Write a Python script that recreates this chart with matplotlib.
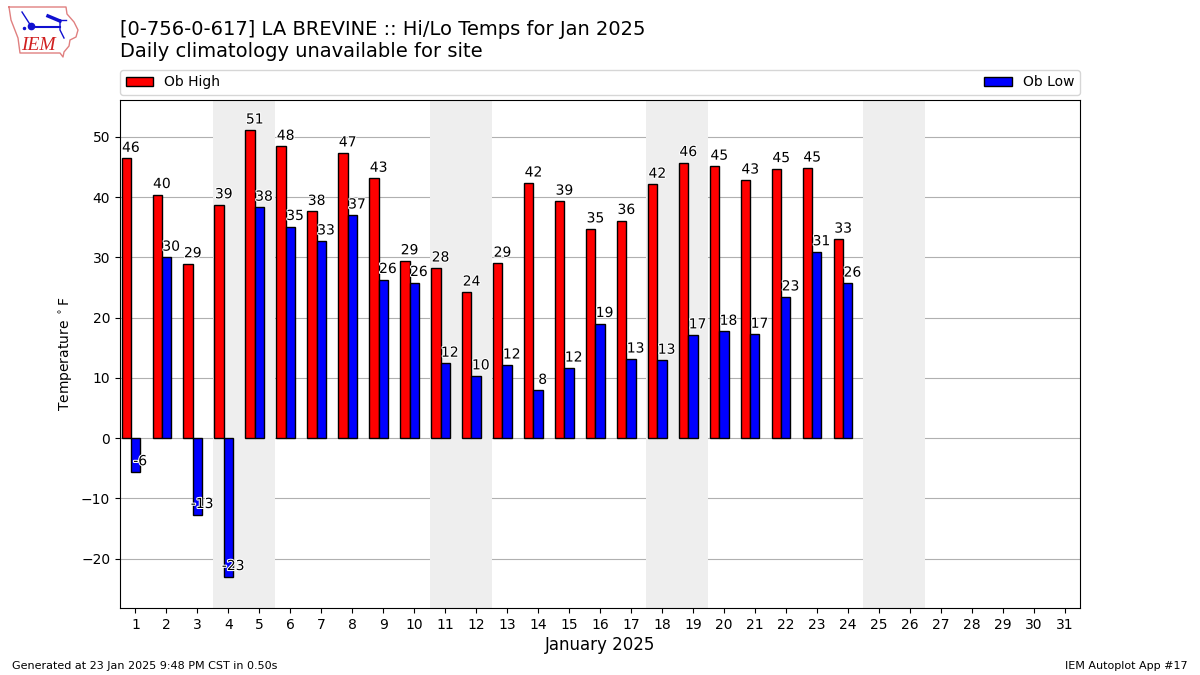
import matplotlib
matplotlib.use('Agg')
import matplotlib.pyplot as plt
import matplotlib.patheffects as PathEffects

days = list(range(1, 25))
ob_high = [46.4, 40.4, 28.9, 38.7, 51.1, 48.4, 37.6, 47.3, 43.1, 29.4, 28.2, 24.2,
           29.0, 42.3, 39.3, 34.7, 36.1, 42.1, 45.7, 45.1, 42.8, 44.7, 44.8, 33.0]
ob_low = [-5.6, 30.0, -12.7, -23.0, 38.3, 35.1, 32.7, 37.0, 26.3, 25.8, 12.4, 10.3,
          12.1, 7.9, 11.6, 19.0, 13.1, 12.9, 17.1, 17.7, 17.2, 23.4, 30.9, 25.7]
weekends = [4, 11, 18, 25]
yticks = [-20, -10, 0, 10, 20, 30, 40, 50]

# logo outline, pixels of the 1200x675 image
iowa_x = [9, 66, 67, 74, 78, 76, 70, 69, 64, 63, 60, 20, 18, 11, 9]
iowa_y = [7, 7, 14, 22, 30, 37, 40, 46, 52, 57, 53, 53, 38, 20, 7]

fig = plt.figure(figsize=(12, 6.75), dpi=100)
ax = fig.add_axes([120 / 1200, 67 / 675, 960 / 1200, 508 / 675])

for d in weekends:
    ax.axvspan(d - 0.5, d + 1.5, color='#eeeeee', lw=0, zorder=1)

ax.bar([d - 0.3 for d in days], ob_high, width=0.3, color='r', edgecolor='k', label='Ob High', zorder=2)
ax.bar(days, ob_low, width=0.3, color='b', edgecolor='k', label='Ob Low', zorder=2)

# labels sit a bit right of each bar centre
for d, hi, lo in zip(days, ob_high, ob_low):
    for xpos, val in ((d - 0.15, hi), (d + 0.15, lo)):
        t = ax.text(xpos, val + 0.6, '%.0f' % val, ha='center', va='bottom', fontsize=10, zorder=4)
        t.set_path_effects([PathEffects.withStroke(linewidth=1.5, foreground='white')])

ax.set_xlim(0.5, 31.5)
ax.set_ylim(-28.2, 56.1)
ax.set_xticks(range(1, 32))
ax.set_yticks(yticks)
ax.grid(axis='y', zorder=1.5)
ax.set_axisbelow(True)
ax.set_ylabel(r'Temperature $^\circ$F')
ax.set_xlabel('January 2025', fontsize=12, labelpad=3)
ax.legend(bbox_to_anchor=(0, 1.01, 1, 0.102), loc='lower left', ncol=2, mode='expand', borderaxespad=0)

fig.text(120 / 1200, 1 - 61 / 675, '[0-756-0-617] LA BREVINE :: Hi/Lo Temps for Jan 2025\nDaily climatology unavailable for site',
         fontsize=14, ha='left', va='bottom')
fig.text(12 / 1200, 1 - 666 / 675, 'Generated at 23 Jan 2025 9:48 PM CST in 0.50s', fontsize=8, va='center')
fig.text(1188 / 1200, 1 - 666 / 675, 'IEM Autoplot App #17', fontsize=8, va='center', ha='right')

logo = fig.add_axes([0, 1 - 60 / 675, 80 / 1200, 60 / 675])
logo.set_xlim(0, 80)
logo.set_ylim(60, 0)
logo.axis('off')
logo.plot(iowa_x, iowa_y, color='#e08080', lw=1)
logo.plot([31, 60], [27, 27], color='#1010d0', lw=1.5)
logo.plot([22, 31], [12, 26], color='#1010d0', lw=1)
logo.plot([60, 60, 64], [20, 30, 38], color='#1010d0', lw=1)
logo.plot([48, 60], [16, 21], color='#1010d0', lw=2.5)
logo.plot([58, 66], [20, 20], color='#1010d0', lw=1)
logo.plot([31], [26], 'o', color='#1010d0', ms=4.5)
logo.plot([24], [28], 'o', color='#1010d0', ms=1.5)
logo.text(21, 45, 'IEM', color='#d02020', fontsize=14, family='Liberation Serif', style='italic', va='center')

fig.savefig('out.png', dpi=100)
